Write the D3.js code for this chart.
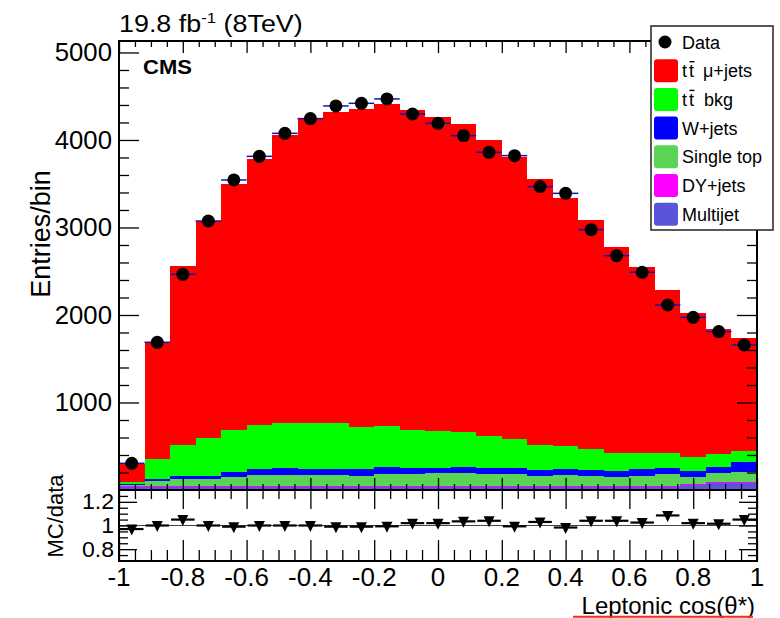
<!DOCTYPE html>
<html><head><meta charset="utf-8">
<script src="https://cdn.jsdelivr.net/npm/d3@7"></script>
<style>
body{margin:0;background:#fff}
svg{display:block}
text{font-family:"Liberation Sans",Arial,Helvetica,sans-serif;fill:#000}
</style>
</head><body>
<svg id="c" width="780" height="618"></svg>
<script>
// ---- data: lepton cos(theta*) distribution, 25 bins in [-1, 1] ----
const binLo = -1, binHi = 1, nBins = 25;
const multijet  = [38, 40, 40, 40, 40, 40, 40, 40, 40, 40, 40, 40, 40, 40, 40, 40, 40, 40, 40, 40, 40, 40, 55, 78, 78];
const dyJets    = [6, 8, 8, 8, 8, 8, 8, 8, 8, 8, 8, 8, 8, 8, 8, 8, 8, 8, 8, 8, 8, 8, 10, 10, 10];
const singleTop = [18, 55, 82, 82, 101, 120, 127, 127, 127, 112, 139, 131, 142, 150, 135, 131, 116, 123, 116, 104, 116, 131, 87, 102, 122];
const wJets     = [6, 19, 26, 30, 57, 68, 76, 69, 69, 76, 76, 72, 58, 69, 65, 69, 65, 65, 65, 69, 72, 69, 69, 77, 106];
const ttBkg     = [27, 232, 354, 430, 484, 503, 519, 522, 518, 488, 472, 439, 426, 392, 365, 335, 285, 267, 240, 206, 191, 179, 156, 144, 133];
const ttSignal  = [201, 1336, 2050, 2481, 2807, 3048, 3283, 3470, 3562, 3634, 3676, 3653, 3593, 3524, 3387, 3219, 3044, 2830, 2617, 2354, 2118, 1859, 1642, 1425, 1284];
const dataCounts = [305, 1688, 2465, 3074, 3543, 3813, 4076, 4244, 4389, 4419, 4469, 4297, 4190, 4050, 3859, 3821, 3467, 3390, 2975, 2678, 2488, 2114, 1973, 1810, 1657];
const mcOverData = [0.97, 1.00, 1.05, 1.00, 0.99, 1.0, 1.0, 1.0, 0.99, 0.99, 0.993, 1.02, 1.02, 1.035, 1.04, 0.993, 1.03, 0.983, 1.04, 1.04, 1.025, 1.085, 1.02, 1.015, 1.05];

const xTickVals   = [-1, -0.8, -0.6, -0.4, -0.2, 0, 0.2, 0.4, 0.6, 0.8, 1];
const xTickLabels = ["-1", "-0.8", "-0.6", "-0.4", "-0.2", "0", "0.2", "0.4", "0.6", "0.8", "1"];
const yTickVals   = [1000, 2000, 3000, 4000, 5000];
const yTickLabels = ["1000", "2000", "3000", "4000", "5000"];
const rTickVals   = [0.8, 1, 1.2];
const rTickLabels = ["0.8", "1", "1.2"];

const keys = ["multijet", "dyJets", "singleTop", "wJets", "ttBkg", "ttSignal"];
const comp = {multijet, dyJets, singleTop, wJets, ttBkg, ttSignal};
const colors = {multijet:"#5954d8", dyJets:"#ff00ff", singleTop:"#59d454",
                wJets:"#0000ff", ttBkg:"#00ff00", ttSignal:"#ff0000"};

// ---- layout ----
const L = 119, R = 757, T = 41, B = 490, RB = 561;
const svg = d3.select("#c");
const x  = d3.scaleLinear().domain([binLo, binHi]).range([L, R]);
const y  = d3.scaleLinear().domain([0, 5131]).range([B, T]);
const yr = d3.scaleLinear().domain([0.7, 1.3]).range([RB, B]);
const edges = d3.range(nBins + 1).map(i => binLo + i * (binHi - binLo) / nBins);
const centers = d3.range(nBins).map(i => (edges[i] + edges[i + 1]) / 2);

svg.append("clipPath").attr("id", "mainClip")
  .append("rect").attr("x", L).attr("y", T).attr("width", R - L).attr("height", B - T);
svg.append("clipPath").attr("id", "ratioClip")
  .append("rect").attr("x", L).attr("y", B).attr("width", R - L).attr("height", RB - B);

// ---- stacked MC histogram ----
const plot = svg.append("g").attr("clip-path", "url(#mainClip)");
const rows = d3.range(nBins).map(i => Object.fromEntries(keys.map(k => [k, comp[k][i]])));
const series = d3.stack().keys(keys)(rows);
const area = d3.area().curve(d3.curveStepAfter)
  .x(d => x(d.e)).y0(d => y(d.v0)).y1(d => y(d.v1));
series.forEach(s => {
  const pts = edges.map((e, j) => {
    const b = s[Math.min(j, nBins - 1)];
    return {e, v0: b[0], v1: b[1]};
  });
  plot.append("path").attr("d", area(pts)).attr("fill", colors[s.key])
    .attr("shape-rendering", "crispEdges");
});

// data: x-error bars and markers
plot.selectAll(".xerr").data(dataCounts).join("line")
  .attr("x1", (d, i) => x(edges[i])).attr("x2", (d, i) => x(edges[i + 1]))
  .attr("y1", d => y(d)).attr("y2", d => y(d))
  .attr("stroke", "#1414b4").attr("stroke-width", 1.5);
plot.selectAll(".pt").data(dataCounts).join("circle")
  .attr("cx", (d, i) => x(centers[i])).attr("cy", d => y(d)).attr("r", 6.5).attr("fill", "#000");

// ---- ratio panel ----
const rp = svg.append("g").attr("clip-path", "url(#ratioClip)");
rp.append("line").attr("x1", L).attr("x2", R).attr("y1", yr(1)).attr("y2", yr(1))
  .attr("stroke", "#444").attr("stroke-width", 1.2);
rp.selectAll(".rerr").data(mcOverData).join("line")
  .attr("x1", (d, i) => x(edges[i]) + 1).attr("x2", (d, i) => x(edges[i + 1]) - 1)
  .attr("y1", d => yr(d)).attr("y2", d => yr(d))
  .attr("stroke", "#000").attr("stroke-width", 2.2);
rp.selectAll(".tri").data(mcOverData).join("path")
  .attr("d", "M-5.5,-4.5L5.5,-4.5L0,6.5Z")
  .attr("transform", (d, i) => `translate(${x(centers[i])},${yr(d)})`)
  .attr("fill", "#000");

// ---- ticks (inward, ROOT style) ----
function tickAxis(gen, tx, ty, vals, len) {
  const g = svg.append("g").attr("transform", `translate(${tx},${ty})`)
    .call(gen.tickValues(vals).tickSize(-len).tickFormat(""));
  g.select(".domain").remove();
  g.selectAll(".tick line").attr("stroke", "#000").attr("stroke-width", 1.3);
}
const xMinor = d3.range(41).filter(i => i % 4 !== 0).map(i => binLo + i * 0.05);
const yMinor = d3.range(1, 26).filter(i => i % 5 !== 0).map(i => i * 200);
const rMinor = d3.range(1, 12).filter(i => i !== 2 && i !== 6 && i !== 10).map(i => 0.7 + i * 0.05);

tickAxis(d3.axisBottom(x), 0, B, xTickVals, 12);
tickAxis(d3.axisBottom(x), 0, B, xMinor, 6);
tickAxis(d3.axisTop(x), 0, T, xTickVals, 12);
tickAxis(d3.axisTop(x), 0, T, xMinor, 6);
tickAxis(d3.axisLeft(y), L, 0, yTickVals, 20);
tickAxis(d3.axisLeft(y), L, 0, yMinor, 10);
tickAxis(d3.axisRight(y), R, 0, yTickVals, 20);
tickAxis(d3.axisRight(y), R, 0, yMinor, 10);

tickAxis(d3.axisBottom(x), 0, RB, xTickVals, 21);
tickAxis(d3.axisBottom(x), 0, RB, xMinor, 11);
tickAxis(d3.axisTop(x), 0, B, xTickVals, 19);
tickAxis(d3.axisTop(x), 0, B, xMinor, 9);
tickAxis(d3.axisLeft(yr), L, 0, rTickVals, 18);
tickAxis(d3.axisLeft(yr), L, 0, rMinor, 9);
tickAxis(d3.axisRight(yr), R, 0, rTickVals, 18);
tickAxis(d3.axisRight(yr), R, 0, rMinor, 9);

// frames
svg.append("rect").attr("x", L).attr("y", T).attr("width", R - L).attr("height", B - T)
  .attr("fill", "none").attr("stroke", "#000").attr("stroke-width", 2);
svg.append("rect").attr("x", L).attr("y", B).attr("width", R - L).attr("height", RB - B)
  .attr("fill", "none").attr("stroke", "#000").attr("stroke-width", 2);

// ---- text helper ----
function label(px, py, str, size, anchor, sx, weight, rot) {
  const g = svg.append("g")
    .attr("transform", `translate(${px},${py}) scale(${sx || 1},1)` + (rot ? ` rotate(${rot})` : ""));
  const t = g.append("text").attr("text-anchor", anchor || "start")
    .style("font-size", size + "px").text(str);
  if (weight) t.style("font-weight", weight);
  return g;
}

// tick labels
xTickVals.forEach((v, i) => label(x(v), 586, xTickLabels[i], 25, "middle", 1.04));
yTickVals.forEach((v, i) => label(112, y(v) + 9, yTickLabels[i], 25, "end", 1.03));
rTickVals.forEach((v, i) => label(114, yr(v) + 7.5, rTickLabels[i], 22, "end", 1.05));

// axis titles
label(50, 234, "Entries/bin", 27, "middle", 1, null, -90);
label(63, 516, "MC/data", 22, "middle", 1, null, -90);
label(755, 613.5, "Leptonic cos(\u03b8*)", 24, "end", 1);
svg.append("line").attr("x1", 573).attr("x2", 753).attr("y1", 616.8).attr("y2", 616.8)
  .attr("stroke", "#e8321e").attr("stroke-width", 2);

// header
const hdrG = svg.append("g").attr("transform", "translate(119,32) scale(1.12,1)");
const hdr = hdrG.append("text").style("font-size", "24px");
hdr.append("tspan").text("19.8 fb");
hdr.append("tspan").attr("dy", -9).style("font-size", "15px").text("-1");
hdr.append("tspan").attr("dy", 9).text(" (8TeV)");
label(143, 74, "CMS", 20, "start", 1.1, "bold");

// ---- legend ----
const leg = svg.append("g");
leg.append("rect").attr("x", 651).attr("y", 26).attr("width", 122).attr("height", 204)
  .attr("fill", "#fff").attr("stroke", "#222").attr("stroke-width", 1.5);
const legendEntries = [
  {key: "data", text: "Data"},
  {key: "ttSignal", tt: true, text: "\u03bc+jets", off: 21},
  {key: "ttBkg", tt: true, text: "bkg", off: 22},
  {key: "wJets", text: "W+jets"},
  {key: "singleTop", text: "Single top"},
  {key: "dyJets", text: "DY+jets"},
  {key: "multijet", text: "Multijet"}
];
legendEntries.forEach((e, i) => {
  const cy = 42 + i * 28.7;
  if (e.key === "data") {
    leg.append("circle").attr("cx", 665).attr("cy", cy).attr("r", 6.5).attr("fill", "#000");
  } else {
    leg.append("rect").attr("x", 654).attr("y", cy - 11.5).attr("width", 24).attr("height", 23)
      .attr("rx", 3).attr("fill", colors[e.key]);
  }
  const g = leg.append("g").attr("transform", `translate(682,${cy + 6.5})`);
  if (e.tt) {
    g.append("text").attr("x", 0).style("font-size", "18px").text("t");
    g.append("text").attr("x", 7).style("font-size", "18px").text("t");
    g.append("line").attr("x1", 7.5).attr("x2", 12.5).attr("y1", -15.5).attr("y2", -15.5)
      .attr("stroke", "#000").attr("stroke-width", 1.4);
    g.append("text").attr("x", e.off).style("font-size", "18px").text(e.text);
  } else {
    g.append("text").style("font-size", "18px").text(e.text);
  }
});
</script>
</body></html>
